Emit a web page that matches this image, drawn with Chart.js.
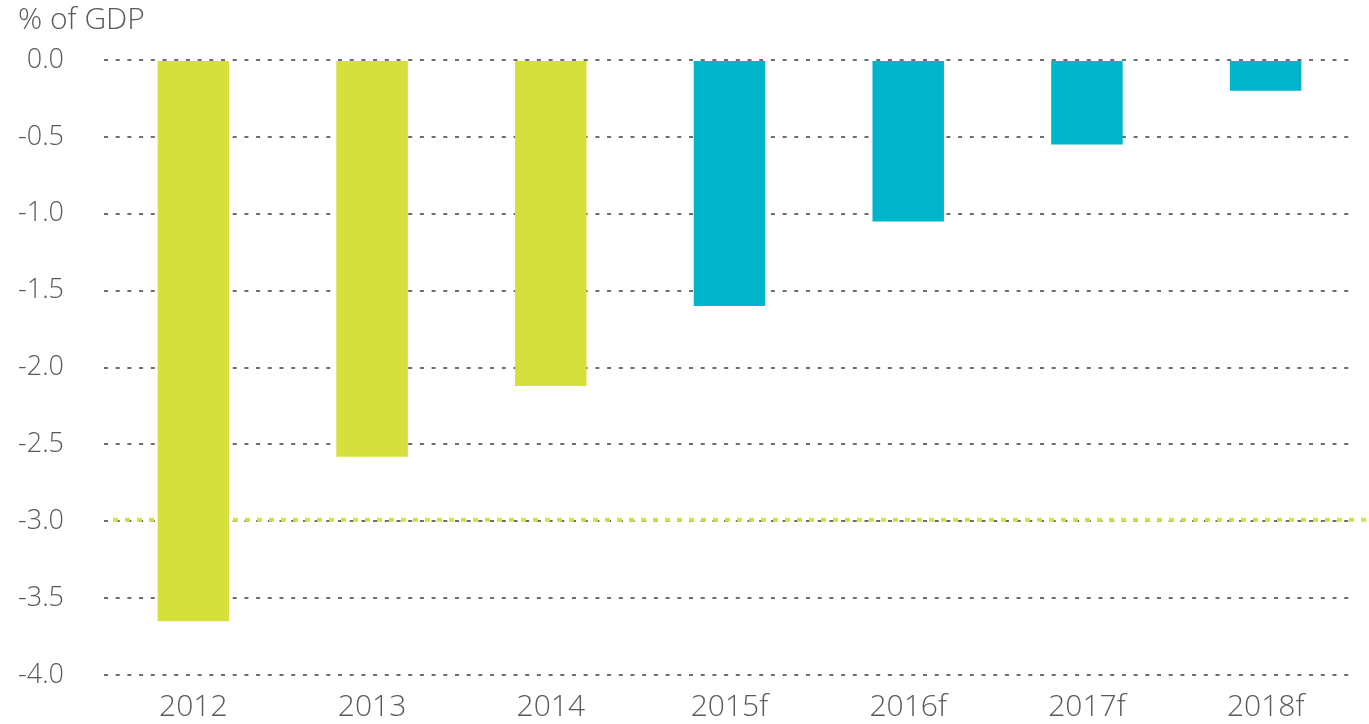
<!DOCTYPE html>
<html>
<head>
<meta charset="utf-8">
<script src="https://cdn.jsdelivr.net/npm/chart.js@4/dist/chart.umd.min.js"></script>
<style>
  html, body { margin: 0; padding: 0; background: #fff; }
  #wrap { width: 1369px; height: 724px; }
</style>
</head>
<body>
<div id="wrap"><canvas id="bar"></canvas></div>
<script>
const years = ['2012', '2013', '2014', '2015f', '2016f', '2017f', '2018f'];
const balance = [-3.65, -2.58, -2.12, -1.6, -1.05, -0.55, -0.2];
const isForecast = [false, false, false, true, true, true, true];
const threshold = -2.99;

const green = '#d5e03c';
const blue = '#00b4cc';
const textColor = '#5a5a5a';
const fontFamily = '"Open Sans", "Noto Sans", sans-serif';

// green dotted limit line across the plot
const limitLine = {
    id: 'limitLine',
    afterDatasetsDraw(chart) {
        const ctx = chart.ctx;
        const y = chart.scales.y.getPixelForValue(threshold);
        ctx.save();
        ctx.strokeStyle = green;
        ctx.lineWidth = 4;
        ctx.setLineDash([5, 7]);
        ctx.beginPath();
        ctx.moveTo(chart.chartArea.left + 9, y);
        ctx.lineTo(chart.width, y);
        ctx.stroke();
        ctx.restore();
    }
};

const ctxBar = document.getElementById('bar').getContext('2d');

const barChart = new Chart(ctxBar, {
    type: 'bar',
    data: {
        labels: years,
        datasets: [{
            label: 'Budget balance',
            data: balance,
            backgroundColor: isForecast.map(f => f ? blue : green),
            borderWidth: 0,
            barPercentage: 0.4,
            categoryPercentage: 1.0
        }]
    },
    options: {
        responsive: true,
        maintainAspectRatio: false,
        animation: false,
        layout: {
            padding: { left: 18, right: 14, top: 0, bottom: 0 }
        },
        plugins: {
            legend: { display: false },
            tooltip: { enabled: false },
            title: {
                display: true,
                text: '% of GDP',
                align: 'start',
                color: textColor,
                font: { family: fontFamily, size: 30, weight: 300, lineHeight: 1.2 },
                padding: { top: 2, bottom: 22 }
            }
        },
        scales: {
            x: {
                afterFit(scale) { scale.height = 49; },
                grid: { display: false, drawTicks: false },
                border: { display: false },
                ticks: {
                    color: textColor,
                    font: { family: fontFamily, size: 30, weight: 300 },
                    padding: 14
                }
            },
            y: {
                min: -4,
                max: 0,
                afterFit(scale) {
                    scale.width = 86;
                    scale.paddingTop = 0;
                    scale.paddingBottom = 0;
                },
                grid: {
                    color: '#6e6e6e',
                    lineWidth: 2,
                    drawTicks: false
                },
                border: { display: false, dash: [4, 7.7] },
                ticks: {
                    stepSize: 0.5,
                    color: textColor,
                    font: { family: fontFamily, size: 27, weight: 300 },
                    padding: 40,
                    callback: v => v.toFixed(1)
                }
            }
        }
    },
    plugins: [limitLine]
});
</script>
</body>
</html>
